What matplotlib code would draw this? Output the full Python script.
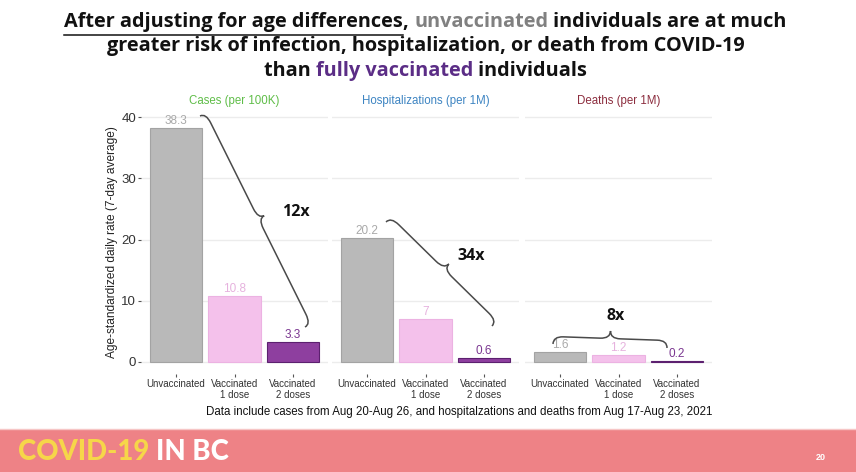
import numpy as np
import matplotlib
matplotlib.use("Agg")
import matplotlib.pyplot as plt
from matplotlib.path import Path
from matplotlib.patches import PathPatch, Rectangle

# data
PANELS = ["Cases (per 100K)", "Hospitalizations (per 1M)", "Deaths (per 1M)"]
PANEL_COLORS = ["#5fbd48", "#3d84c2", "#8c2d3e"]
GROUPS = ["Unvaccinated", "Vaccinated\n1 dose", "Vaccinated\n2 doses"]
cases = [38.3, 10.8, 3.3]
hosp = [20.2, 7, 0.6]
deaths = [1.6, 1.2, 0.2]
VALUES = [cases, hosp, deaths]
RATIOS = ["12x", "34x", "8x"]

BAR_FILL = ["#b9b9b9", "#f4c1eb", "#8e3f9f"]
BAR_EDGE = ["#a3a3a3", "#ecb2e2", "#5c206f"]
LBL_COL = ["#a9a9a9", "#e6b2de", "#7a3690"]

W, H = 856, 472
plt.rcParams["font.family"] = ["Liberation Sans", "DejaVu Sans"]
fig = plt.figure(figsize=(W / 100, H / 100), dpi=100)
fig.patch.set_facecolor("white")


def px_box(x0, x1, ytop, ybot):
    return [x0 / W, 1 - ybot / H, (x1 - x0) / W, (ybot - ytop) / H]


lefts = [141, 332, 525]
axes = []
for k in range(3):
    ax = fig.add_axes(px_box(lefts[k], lefts[k] + 187, 111, 373.6))
    vals = VALUES[k]
    x = np.arange(len(vals))
    ax.bar(x, vals, width=0.9, color=BAR_FILL, edgecolor=BAR_EDGE, linewidth=0.8, zorder=2)
    for i, v in enumerate(vals):
        ax.text(i, v + 0.15, f"{v:g}", ha="center", va="bottom", fontsize=8.5,
                color=LBL_COL[i], zorder=3)
    ax.set_xlim(-0.6, 2.6)
    ax.set_ylim(-1.9, 41)
    ax.set_yticks([0, 10, 20, 30, 40])
    ax.set_xticks(x)
    ax.set_xticklabels(GROUPS, fontsize=7, color="#333333", linespacing=1.1)
    ax.yaxis.grid(True, color="#ececec", lw=1)
    ax.set_axisbelow(True)
    for s in ax.spines.values():
        s.set_visible(False)
    ax.tick_params(axis="both", length=2.5, width=0.8, color="#555555", pad=1.5)
    ax.tick_params(axis="y", labelsize=9.5, labelcolor="#333333", pad=1)
    ax.set_title(PANELS[k], fontsize=8.3, color=PANEL_COLORS[k], pad=5)
    ax.patch.set_alpha(0)
    if k > 0:
        ax.tick_params(axis="y", length=0, labelleft=False)
    else:
        ax.set_ylabel("Age-standardized daily rate (7-day average)", fontsize=8.6,
                      color="#222222", labelpad=2)
    axes.append(ax)

# overlay in pixel coordinates for title, braces and footer
ov = fig.add_axes([0, 0, 1, 1])
ov.set_xlim(0, W)
ov.set_ylim(H, 0)
ov.axis("off")
ov.patch.set_alpha(0)
renderer = fig.canvas.get_renderer()

TITLE = [
    [("After adjusting for age differences", "#111111"), (", ", "#111111"),
     ("unvaccinated", "#808080"), (" individuals are at much", "#111111")],
    [("greater risk of infection, hospitalization, or death from COVID-19", "#111111")],
    [("than ", "#111111"), ("fully vaccinated", "#5b2d86"), (" individuals", "#111111")],
]
title_y = [22, 46, 71]
tkw = dict(fontsize=14.35, fontweight="bold", family=["Open Sans", "DejaVu Sans"], va="center")
for line, y in zip(TITLE, title_y):
    texts = [ov.text(0, y, s, color=c, **tkw) for s, c in line]
    widths = [t.get_window_extent(renderer).width for t in texts]
    x = 425.5 - sum(widths) / 2
    for j, (t, w) in enumerate(zip(texts, widths)):
        t.set_x(x)
        if y == title_y[0] and j == 0:
            ov.plot([x, x + w], [35, 35], color="#111111", lw=1.1)
        x += w


def brace(p0, p1, amp, q=9, **kw):
    p0, p1 = np.asarray(p0, float), np.asarray(p1, float)
    d = p1 - p0
    L = np.hypot(*d)
    u = d / L
    n = np.array([u[1], -u[0]])
    a = amp
    loc = [(0, 0), (0, a / 2), (q, a / 2), (L / 2 - q, a / 2), (L / 2, a / 2), (L / 2, a),
           (L / 2, a / 2), (L / 2 + q, a / 2), (L - q, a / 2), (L, a / 2), (L, 0)]
    verts = [p0 + s * u + v * n for s, v in loc]
    codes = [Path.MOVETO, Path.CURVE3, Path.CURVE3, Path.LINETO, Path.CURVE3, Path.CURVE3,
             Path.CURVE3, Path.CURVE3, Path.LINETO, Path.CURVE3, Path.CURVE3]
    ov.add_patch(PathPatch(Path(verts, codes), fill=False, **kw))


bkw = dict(edgecolor="#4a4a4a", lw=1.1)
brace((200, 116), (305, 327), 13, q=11, **bkw)
brace((386, 222), (492, 326), 14, q=11, **bkw)
brace((553, 344), (667, 348), 15, q=10, **bkw)
rkw = dict(fontsize=11.5, fontweight="bold", family=["Open Sans", "DejaVu Sans"],
           ha="center", va="center", color="#111111")
for txt, (x, y) in zip(RATIOS, [(296, 212), (471, 256), (616, 316)]):
    ov.text(x, y, txt, **rkw)

ov.text(459, 412, "Data include cases from Aug 20-Aug 26, and hospitalzations and deaths "
        "from Aug 17-Aug 23, 2021", fontsize=8.3, ha="center", va="center", color="#111111")

# footer band
ov.add_patch(Rectangle((0, 429), W, H - 429, color="#ee8286", lw=0))
ov.plot([0, W], [429, 429], color="#f6c6c6", lw=1)
fkw = dict(fontsize=19.8, fontweight="black", family=["Lato", "DejaVu Sans"], va="center")
t1 = ov.text(18, 452, "COVID-19 ", color="#f6d649", **fkw)
w1 = t1.get_window_extent(renderer).width
ov.text(18 + w1, 452, "IN BC", color="white", **fkw)
ov.text(821, 457, "20", fontsize=6.5, fontweight="bold", color="white", ha="center", va="center")

fig.savefig("out.png", dpi=100)
